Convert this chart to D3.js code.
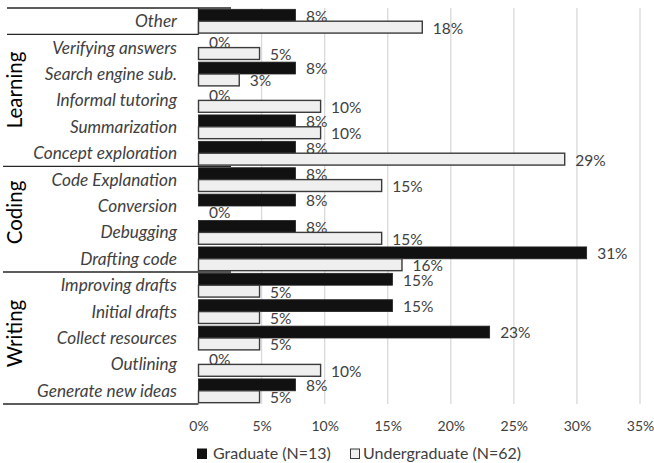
<!DOCTYPE html>
<html><head><meta charset="utf-8">
<script src="https://cdn.jsdelivr.net/npm/d3@7"></script>
<style>body{margin:0;background:#fff}svg{display:block}</style>
</head><body>
<svg id="c" width="654" height="463"></svg>
<script>
// ---- data ----
const categories = ["Other","Verifying answers","Search engine sub.","Informal tutoring","Summarization","Concept exploration","Code Explanation","Conversion","Debugging","Drafting code","Improving drafts","Initial drafts","Collect resources","Outlining","Generate new ideas"];
const graduate = [7.69,0,7.69,0,7.69,7.69,7.69,7.69,7.69,30.77,15.38,15.38,23.08,0,7.69];
const undergraduate = [17.74,4.84,3.23,9.68,9.68,29.03,14.52,0,14.52,16.13,4.84,4.84,4.84,9.68,4.84];
const seriesNames = ["Graduate (N=13)","Undergraduate (N=62)"];
const groupNames = ["Learning","Coding","Writing"];
const groupFirst = ["Verifying answers","Code Explanation","Improving drafts"];
const groupLast = ["Concept exploration","Drafting code","Generate new ideas"];
const tickValues = [0,5,10,15,20,25,30,35];
const tickLabels = ["0%","5%","10%","15%","20%","25%","30%","35%"];

// ---- layout ----
const svg = d3.select("#c");
const pLeft = 198.5, pRight = 640, pTop = 8, pBottom = 404;
const FONT = "Lato, 'Open Sans', sans-serif";
const GRAY = "#404040";

const x = d3.scaleLinear().domain([0,35]).range([pLeft,pRight]);
const y = d3.scaleBand().domain(categories).range([pTop,pBottom]).paddingInner(0.1).paddingOuter(0.05);
const ys = d3.scaleBand().domain(seriesNames).range([0,y.bandwidth()]);
const step = y.step();
const bTop = c => y(c) - y.paddingOuter()*step; // band boundary

// gridlines
svg.append("g").selectAll("line").data(tickValues.filter(t=>t>0)).join("line")
  .attr("x1",d=>x(d)).attr("x2",d=>x(d)).attr("y1",pTop).attr("y2",pBottom)
  .attr("stroke","#d9d9d9").attr("stroke-width",1.3);

// tick labels via axis
const ax = svg.append("g").attr("transform",`translate(0,${pBottom+12})`)
  .call(d3.axisBottom(x).tickValues(tickValues).tickFormat((d,i)=>tickLabels[i]).tickSize(0));
ax.select(".domain").remove();
ax.selectAll("text").attr("font-family",FONT).attr("font-size",14).attr("fill",GRAY).attr("dy","0.71em").attr("y",5);

// category labels
svg.append("g").selectAll("text").data(categories).join("text")
  .attr("x",177).attr("y",d=>y(d)+y.bandwidth()/2).attr("dy","0.35em")
  .attr("text-anchor","end").attr("font-family",FONT).attr("font-style","italic")
  .attr("font-size",17.2).attr("fill",GRAY).text(d=>d);

// separator lines
const sep = svg.append("g").attr("stroke","#262626").attr("stroke-width",1.3);
const yTop = bTop(categories[0]);
const yOtherBottom = bTop(categories[1]);
sep.append("line").attr("x1",7).attr("x2",231).attr("y1",yTop).attr("y2",yTop);
sep.append("line").attr("x1",7).attr("x2",pLeft).attr("y1",yOtherBottom).attr("y2",yOtherBottom);
sep.append("line").attr("x1",pLeft).attr("x2",pLeft).attr("y1",yTop).attr("y2",yOtherBottom);
groupFirst.forEach((g,i)=>{
  if(i>0){ const yy=bTop(g); sep.append("line").attr("x1",3).attr("x2",231).attr("y1",yy).attr("y2",yy); }
});
sep.append("line").attr("x1",3).attr("x2",pLeft).attr("y1",pBottom).attr("y2",pBottom);

// group labels (vertical offsets from group centre, as in the reference)
const groupShift = [-10.5,-6.7,-4.5];
groupNames.forEach((g,i)=>{
  const y0 = bTop(groupFirst[i]);
  const y1 = bTop(groupLast[i]) + step;
  const cy = (y0+y1)/2 + groupShift[i];
  svg.append("text").attr("transform",`translate(22,${cy}) rotate(-90)`)
    .attr("text-anchor","middle").attr("font-family",FONT).attr("font-size",20.5)
    .attr("fill","#000").text(g);
});

const fmt = v => Math.round(v)+"%";
const data = categories.map((c,i)=>({c, g:graduate[i], u:undergraduate[i]}));

// graduate bars + labels
svg.append("g").selectAll("rect").data(data).join("rect")
  .attr("x",x(0)).attr("y",d=>y(d.c)+ys(seriesNames[0]))
  .attr("width",d=>x(d.g)-x(0)).attr("height",ys.bandwidth())
  .attr("fill","#111").attr("stroke","#222").attr("stroke-width",0.8);
svg.append("g").selectAll("text").data(data).join("text")
  .attr("x",d=>x(d.g)+10.5).attr("y",d=>y(d.c)+ys(seriesNames[0])+ys.bandwidth()/2+1).attr("dy","0.35em")
  .attr("font-family",FONT).attr("font-size",15.5).attr("fill",GRAY).text(d=>fmt(d.g));

// undergraduate bars + labels
svg.append("g").selectAll("rect").data(data).join("rect")
  .attr("x",x(0)).attr("y",d=>y(d.c)+ys(seriesNames[1]))
  .attr("width",d=>x(d.u)-x(0)).attr("height",ys.bandwidth())
  .attr("fill","#efefef").attr("stroke","#3a3a3a").attr("stroke-width",1.4);
svg.append("g").selectAll("text").data(data).join("text")
  .attr("x",d=>x(d.u)+10.5).attr("y",d=>y(d.c)+ys(seriesNames[1])+ys.bandwidth()/2+1).attr("dy","0.35em")
  .attr("font-family",FONT).attr("font-size",15.5).attr("fill",GRAY).text(d=>fmt(d.u));

// legend
const leg = svg.append("g").attr("font-family",FONT).attr("font-size",16).attr("fill",GRAY);
const legX = [197.5, 350.5];
const legTextX = [213, 363];
seriesNames.forEach((s,i)=>{
  leg.append("rect").attr("x",legX[i]).attr("y",449).attr("width",9).attr("height",9.5)
    .attr("fill", i===0?"#111":"#efefef").attr("stroke", i===0?"#111":"#3a3a3a").attr("stroke-width",1);
  leg.append("text").attr("x",legTextX[i]).attr("y",453).attr("dy","0.35em").text(s);
});
</script>
</body></html>
